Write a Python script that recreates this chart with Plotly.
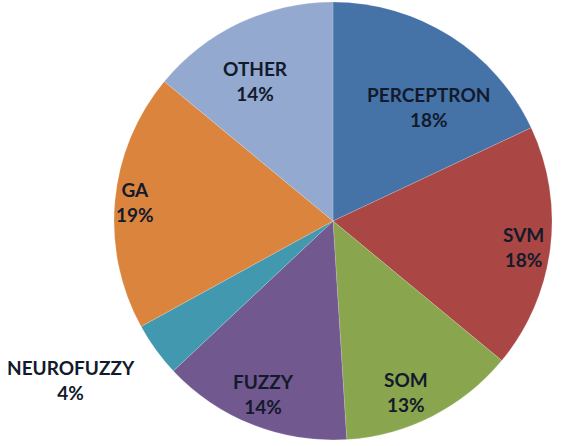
import math
import plotly.graph_objects as go

labels = ["PERCEPTRON", "SVM", "SOM", "FUZZY", "NEUROFUZZY", "GA", "OTHER"]
values = [18, 18, 13, 14, 4, 19, 14]
colors = ["#4572A7", "#AA4643", "#89A54E", "#71588F", "#4198AF", "#DB843D", "#93A9CF"]

# label placement styling (fraction of radius, angular nudge in degrees)
label_r = [0.68, 0.88, 0.85, 0.85, 1.40, 0.91, 0.73]
label_da = [7.6, 0.6, 4.0, 0.3, 4.8, 0.1, -3.8]

W, H = 567, 446
cx, cy, R = 333, 221, 219

fig = go.Figure(go.Pie(
    labels=labels, values=values, sort=False, direction="clockwise", rotation=0,
    marker=dict(colors=colors, line=dict(color="rgba(255,255,255,0.35)", width=0.5)),
    textinfo="none", hoverinfo="label+percent", showlegend=False,
    domain=dict(x=[(cx - R) / W, (cx + R) / W], y=[(H - cy - R) / H, (H - cy + R) / H]),
))

total = sum(values)
cum = 0
for lab, v, rf, da in zip(labels, values, label_r, label_da):
    mid = (cum + v / 2) / total * 360 + da
    cum += v
    a = math.radians(mid)
    px = cx + rf * R * math.sin(a)
    py = cy - rf * R * math.cos(a)
    pct = round(v / total * 100)
    fig.add_annotation(x=px / W, y=1 - py / H, xref="paper", yref="paper",
                       xanchor="center", yanchor="middle",
                       text=f"{lab}<br>{pct}%", showarrow=False, align="center",
                       font=dict(family="Lato", size=19, color="#121a2b"))

fig.update_layout(width=W, height=H, margin=dict(l=0, r=0, t=0, b=0),
                  paper_bgcolor="white", plot_bgcolor="white")
fig.update_annotations(font_weight="bold")
fig.write_html("out.html")
